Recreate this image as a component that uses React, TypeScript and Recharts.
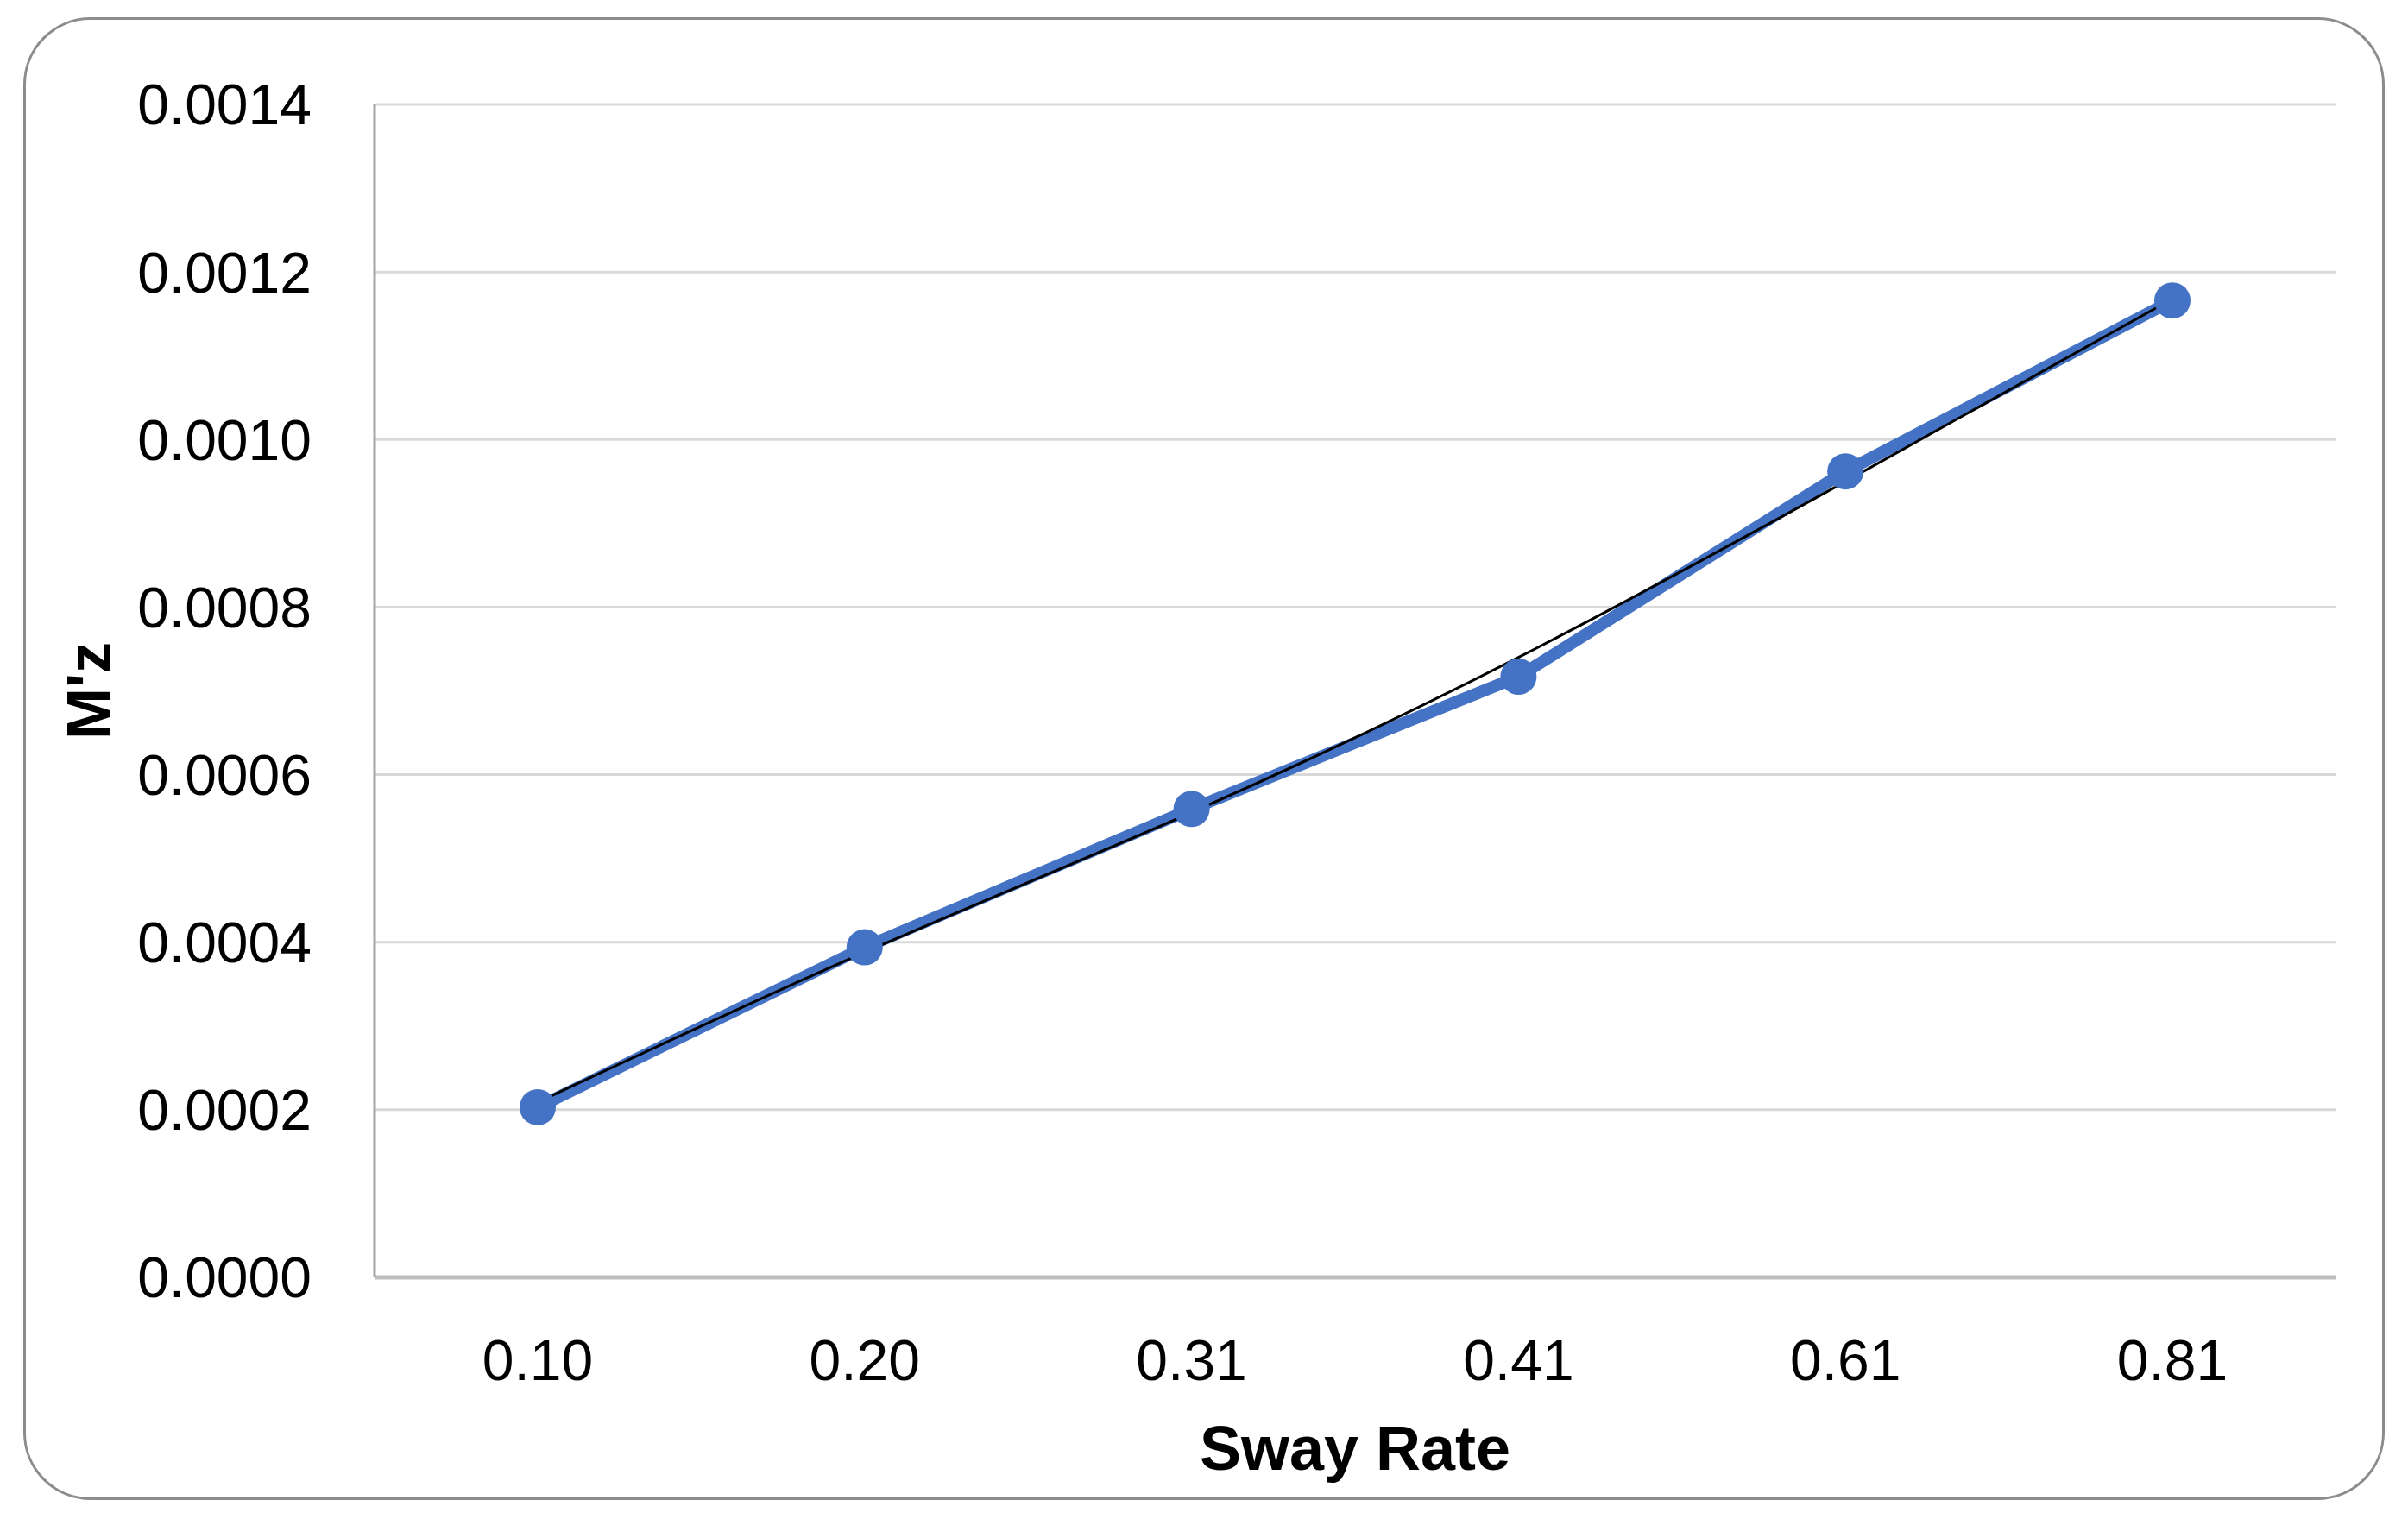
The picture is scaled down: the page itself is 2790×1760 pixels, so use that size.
import { LineChart, Line, XAxis, YAxis, CartesianGrid } from 'recharts';

const swayRates = ['0.10', '0.20', '0.31', '0.41', '0.61', '0.81'];
const mzValues = [0.000203, 0.000394, 0.000559, 0.000717, 0.000962, 0.001166];
// polynomial trendline
const mzTrend = [0.000209, 0.000388, 0.000555, 0.000740, 0.000950, 0.001168];
const yTicks = [0, 0.0002, 0.0004, 0.0006, 0.0008, 0.001, 0.0012, 0.0014];

const BLUE = '#4472C4';
const FONT = '"Liberation Sans", Arial, sans-serif';

const data = swayRates.map((rate, i) => ({
  rate,
  mz: mzValues[i],
  trend: mzTrend[i],
}));

function YTitle(props: any) {
  const { viewBox } = props;
  const x = 128;
  const y = viewBox.y + viewBox.height / 2;
  return (
    <text
      x={x}
      y={y}
      transform={`rotate(-90, ${x}, ${y})`}
      textAnchor="middle"
      fontFamily={FONT}
      fontSize={72}
      fontWeight="bold"
      fill="#000"
    >
      M'z
    </text>
  );
}

function XTitle(props: any) {
  const { viewBox } = props;
  return (
    <text
      x={viewBox.x + viewBox.width / 2}
      y={1703}
      textAnchor="middle"
      fontFamily={FONT}
      fontSize={72}
      fontWeight="bold"
      fill="#000"
    >
      Sway Rate
    </text>
  );
}

export default function App() {
  return (
    <div style={{ position: 'absolute', left: 0, top: 0, width: 2790, height: 1760, background: '#fff' }}>
      <div
        style={{
          position: 'absolute',
          left: 27,
          top: 20,
          width: 2736,
          height: 1718,
          border: '3px solid #8c8c8c',
          borderRadius: 78,
          boxSizing: 'border-box',
        }}
      />
      <div style={{ position: 'absolute', left: 0, top: 0 }}>
        <LineChart
          width={2790}
          height={1760}
          data={data}
          margin={{ top: 121, right: 84, bottom: 0, left: 0 }}
        >
          <CartesianGrid vertical={false} stroke="#d9d9d9" strokeWidth={3} />
          <XAxis
            dataKey="rate"
            height={280}
            padding={{ left: 189, right: 189 }}
            tickLine={false}
            tickSize={0}
            tickMargin={72}
            axisLine={{ stroke: '#bdbdbd', strokeWidth: 5 }}
            tick={{ fontFamily: FONT, fontSize: 66, fill: '#000' }}
            label={<XTitle />}
          />
          <YAxis
            width={434}
            domain={[0, 0.0014]}
            ticks={yTicks}
            tickFormatter={(v: number) => v.toFixed(4)}
            tickLine={false}
            tickSize={0}
            tickMargin={73}
            axisLine={{ stroke: '#a6a6a6', strokeWidth: 3 }}
            tick={{ fontFamily: FONT, fontSize: 66, fill: '#000' }}
            label={<YTitle />}
          />
          <Line
            dataKey="mz"
            stroke={BLUE}
            strokeWidth={14}
            type="linear"
            dot={{ r: 21, fill: BLUE, stroke: BLUE, strokeWidth: 0 }}
            activeDot={false}
            isAnimationActive={false}
          />
          <Line
            dataKey="trend"
            stroke="#000"
            strokeWidth={3}
            type="natural"
            dot={false}
            activeDot={false}
            isAnimationActive={false}
          />
        </LineChart>
      </div>
    </div>
  );
}
